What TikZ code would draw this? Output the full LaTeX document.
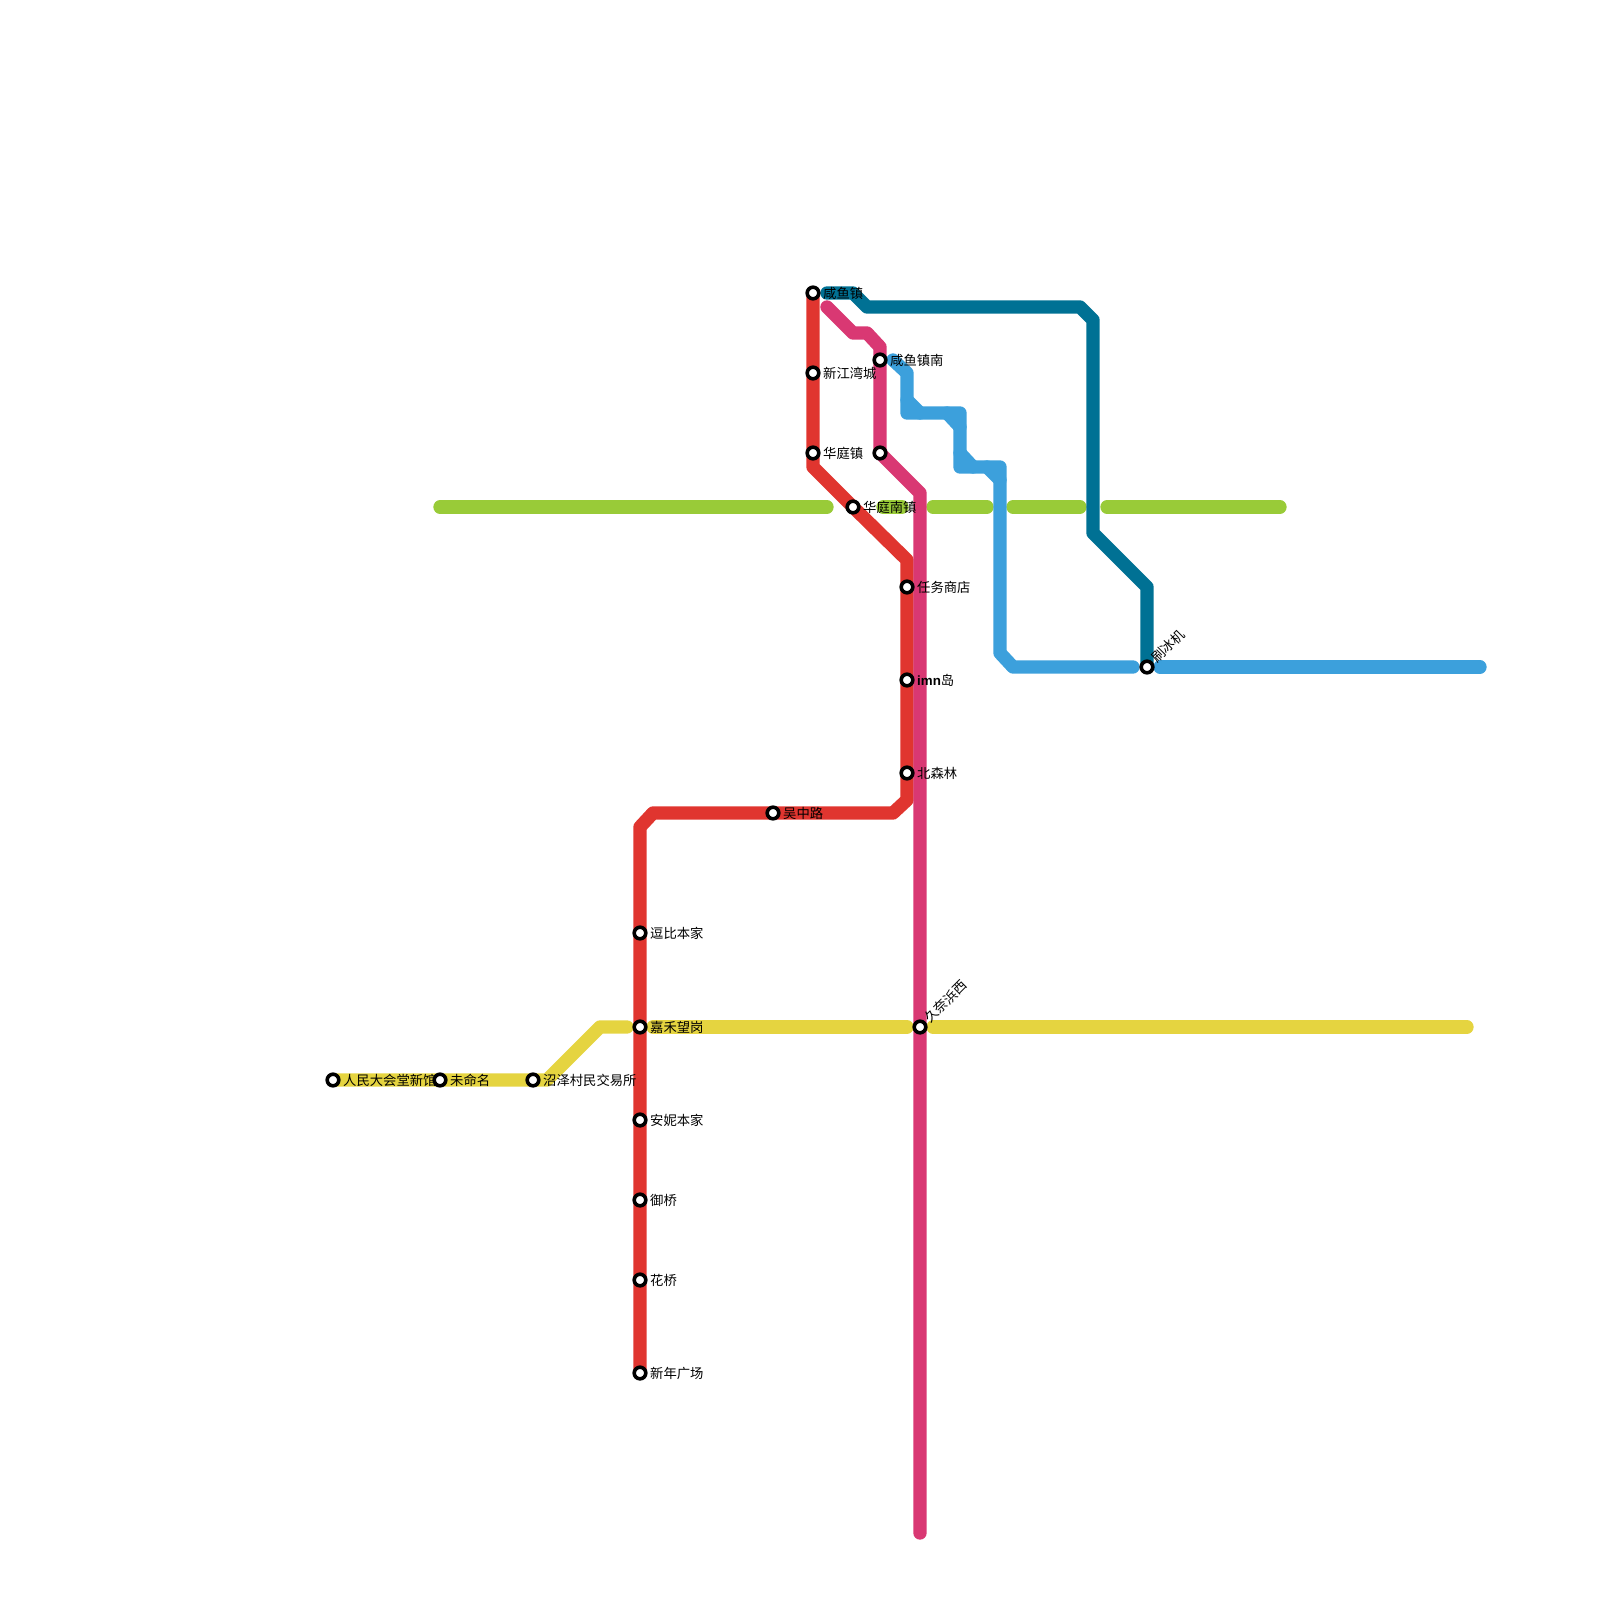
\documentclass[tikz,border=0pt]{standalone}
\usepackage{fontspec}
\setmainfont{Noto Sans CJK SC}
\newfontfamily\latinbold{Liberation Sans Bold}
\definecolor{redline}{HTML}{E0352F}
\definecolor{pinkline}{HTML}{D93873}
\definecolor{tealline}{HTML}{007194}
\definecolor{blueline}{HTML}{3CA0DC}
\definecolor{greenline}{HTML}{99CB38}
\definecolor{yellowline}{HTML}{E5D440}
\pgfdeclarelayer{lines}
\pgfdeclarelayer{labels}
\pgfsetlayers{lines,labels,main}
\tikzset{
  x=1pt,y=-1pt,
  metro/.style={line width=13.33pt,line cap=round,line join=round},
  stn/.style={circle,draw=black,fill=white,line width=3.6pt,minimum size=11.6pt,inner sep=0pt,outer sep=0pt},
  lab/.style={anchor=base west,inner sep=0pt,font=\fontsize{13.33pt}{13.33pt}\selectfont,text=black},
  rlab/.style={lab,rotate=45}
}
\begin{document}
\begin{tikzpicture}
\useasboundingbox (0,0) rectangle (1600,1600);
% stations
\node[stn] (xianyu) at (813,293) {};
\node[stn] (xinjiang) at (813,373) {};
\node[stn] (huating) at (813,453) {};
\node[stn] (huatingnan) at (853,507) {};
\node[stn] (xianyunan) at (880,360) {};
\node[stn] (pinkstn) at (880,453) {};
\node[stn] (renwu) at (907,587) {};
\node[stn] (imn) at (907,680) {};
\node[stn] (beisen) at (907,773) {};
\node[stn] (wuzhong) at (773,813) {};
\node[stn] (jiunai) at (920,1027) {};
\node[stn] (shuabing) at (1147,667) {};
\node[stn] (doubi) at (640,933) {};
\node[stn] (jiahe) at (640,1027) {};
\node[stn] (anni) at (640,1120) {};
\node[stn] (yuqiao) at (640,1200) {};
\node[stn] (huaqiao) at (640,1280) {};
\node[stn] (xinnian) at (640,1373) {};
\node[stn] (renmin) at (333,1080) {};
\node[stn] (weiming) at (440,1080) {};
\node[stn] (zhaoze) at (533,1080) {};
% line vertices
\coordinate (g1a) at (440,507); \coordinate (g1b) at (827,507);
\coordinate (g2a) at (883,507); \coordinate (g2b) at (902,507);
\coordinate (g3a) at (933,507); \coordinate (g3b) at (987,507);
\coordinate (g4a) at (1013,507); \coordinate (g4b) at (1080,507);
\coordinate (g5a) at (1107,507); \coordinate (g5b) at (1280,507);
\coordinate (y1) at (547,1080); \coordinate (y2) at (600,1027); \coordinate (y3) at (627,1027);
\coordinate (y4) at (653,1027); \coordinate (y5) at (907,1027);
\coordinate (y6) at (933,1027); \coordinate (y7) at (1467,1027);
\coordinate (r1) at (813,467); \coordinate (r2) at (907,560); \coordinate (r3) at (907,800);
\coordinate (r4) at (893,813); \coordinate (r5) at (653,813); \coordinate (r6) at (640,827);
\coordinate (p1) at (827,307); \coordinate (p2) at (853,333); \coordinate (p3) at (867,333);
\coordinate (p4) at (880,347); \coordinate (p6) at (920,493); \coordinate (p7) at (920,1533);
\coordinate (t1) at (827,293); \coordinate (t2) at (853,293); \coordinate (t3) at (867,307);
\coordinate (t4) at (1080,307); \coordinate (t5) at (1093,320); \coordinate (t6) at (1093,533); \coordinate (t7) at (1147,587);
\coordinate (b1) at (893,360); \coordinate (b2) at (907,373); \coordinate (b3) at (907,413);
\coordinate (b4) at (960,413); \coordinate (b5) at (960,467); \coordinate (b6) at (1000,467);
\coordinate (b7) at (1000,653); \coordinate (b8) at (1013,667); \coordinate (b9) at (1133,667);
\coordinate (b10) at (1160,667); \coordinate (b11) at (1480,667);
\coordinate (c1a) at (907,400); \coordinate (c1b) at (920,413);
\coordinate (c2a) at (947,413); \coordinate (c2b) at (960,427);
\coordinate (c3a) at (960,453); \coordinate (c3b) at (973,467);
\coordinate (c4a) at (987,467); \coordinate (c4b) at (1000,480);
\begin{pgfonlayer}{lines}
\draw[metro,greenline] (g1a) -- (g1b);
\draw[metro,greenline] (g2a) -- (g2b);
\draw[metro,greenline] (g3a) -- (g3b);
\draw[metro,greenline] (g4a) -- (g4b);
\draw[metro,greenline] (g5a) -- (g5b);
\draw[metro,yellowline] (renmin.center) -- (weiming.center) -- (zhaoze.center) -- (y1) -- (y2) -- (y3);
\draw[metro,yellowline] (y4) -- (y5);
\draw[metro,yellowline] (y6) -- (y7);
\draw[metro,blueline] (b1) -- (b2) -- (b3) -- (b4) -- (b5) -- (b6) -- (b7) -- (b8) -- (b9);
\draw[metro,blueline] (c1a) -- (c1b);
\draw[metro,blueline] (c2a) -- (c2b);
\draw[metro,blueline] (c3a) -- (c3b);
\draw[metro,blueline] (c4a) -- (c4b);
\draw[metro,blueline] (b10) -- (b11);
\draw[metro,tealline] (t1) -- (t2) -- (t3) -- (t4) -- (t5) -- (t6) -- (t7) -- (shuabing.center);
\draw[metro,redline] (xianyu.center) -- (xinjiang.center) -- (huating.center) -- (r1) -- (huatingnan.center) -- (r2) -- (renwu.center) -- (imn.center) -- (beisen.center) -- (r3) -- (r4) -- (wuzhong.center) -- (r5) -- (r6) -- (doubi.center) -- (jiahe.center) -- (anni.center) -- (yuqiao.center) -- (huaqiao.center) -- (xinnian.center);
\draw[metro,pinkline] (p1) -- (p2) -- (p3) -- (p4) -- (xianyunan.center) -- (pinkstn.center) -- (p6) -- (jiunai.center) -- (p7);
\end{pgfonlayer}
\begin{pgfonlayer}{labels}
\node[lab] (lxianyu) at (823,298) {咸鱼镇};
\node[lab] (lxinjiang) at (823,378) {新江湾城};
\node[lab] (lhuating) at (823,458) {华庭镇};
\node[lab] (lhuatingnan) at (863,512) {华庭南镇};
\node[lab] (lxianyunan) at (890,365) {咸鱼镇南};
\node[lab] (lrenwu) at (917,592) {任务商店};
\node[lab] (limn) at (917,685) {{\latinbold imn}岛};
\node[lab] (lbeisen) at (917,778) {北森林};
\node[lab] (lwuzhong) at (783,818) {吴中路};
\node[lab] (ldoubi) at (650,938) {逗比本家};
\node[lab] (ljiahe) at (650,1032) {嘉禾望岗};
\node[lab] (lanni) at (650,1125) {安妮本家};
\node[lab] (lyuqiao) at (650,1205) {御桥};
\node[lab] (lhuaqiao) at (650,1285) {花桥};
\node[lab] (lxinnian) at (650,1378) {新年广场};
\node[lab] (lrenmin) at (343,1085) {人民大会堂新馆};
\node[lab] (lweiming) at (450,1085) {未命名};
\node[lab] (lzhaoze) at (543,1085) {沼泽村民交易所};
\node[rlab] (ljiunai) at (930,1024) {久奈浜西};
\node[rlab] (lshuabing) at (1157,664) {刷冰机};
\end{pgfonlayer}
\end{tikzpicture}
\end{document}
